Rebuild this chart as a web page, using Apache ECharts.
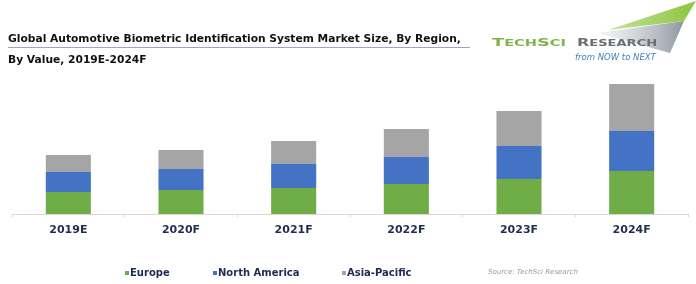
<!DOCTYPE html>
<html>
<head>
<meta charset="utf-8">
<script src="https://cdn.jsdelivr.net/npm/echarts@6/dist/echarts.min.js"></script>
<style>html,body{margin:0;padding:0;background:#fff;}#c{width:696px;height:284px;}</style>
</head>
<body>
<div id="c"></div>
<script>
var categories = ['2019E', '2020F', '2021F', '2022F', '2023F', '2024F'];
var europe = [22, 24, 26, 30, 35, 43];
var northAmerica = [20, 21, 24, 27, 33, 40];
var asiaPacific = [17, 19, 23, 28, 35, 47];
var seriesNames = ['Europe', 'North America', 'Asia-Pacific'];
var colors = ['#70ad47', '#4472c4', '#a5a5a5'];

var chart = echarts.init(document.getElementById('c'), null, {renderer: 'canvas'});
var values = [europe, northAmerica, asiaPacific];
var legendLefts = [120, 208, 337];

var option = {
  animation: false,
  backgroundColor: '#ffffff',
  grid: {left: 12, right: 8, top: 84, bottom: 70},
  xAxis: {
    type: 'category',
    data: categories,
    axisLine: {lineStyle: {color: '#d9d9d9', width: 1}},
    axisTick: {show: true, length: 3, lineStyle: {color: '#d9d9d9'}},
    axisLabel: {color: '#1f2d4f', fontFamily: 'DejaVu Sans', fontWeight: 'bold', fontSize: 11, margin: 11}
  },
  yAxis: {type: 'value', min: 0, max: 130, show: false, splitLine: {show: false}},
  legend: seriesNames.map(function (n, i) {
    return {
      data: [n], left: legendLefts[i], top: 263,
      itemWidth: 4, itemHeight: 4, itemGap: 0, icon: 'rect',
      textStyle: {color: '#1f2a55', fontFamily: 'DejaVu Sans', fontWeight: 'bold', fontSize: 10, padding: [0, 0, 0, -4]}
    };
  }),
  series: seriesNames.map(function (n, i) {
    return {
      name: n, type: 'bar', stack: 'total', data: values[i],
      barWidth: '40%', itemStyle: {color: colors[i]}
    };
  }),
  graphic: [
    {type: 'text', left: 8, top: 34, style: {text: 'Global Automotive Biometric Identification System Market Size, By Region,', fill: '#111', font: 'bold 10.7px "DejaVu Sans"'}},
    {type: 'line', shape: {x1: 8, y1: 47.5, x2: 470, y2: 47.5}, style: {stroke: '#9aa6c8', lineWidth: 1}},
    {type: 'text', left: 8, top: 55, style: {text: 'By Value, 2019E-2024F', fill: '#111', font: 'bold 10.7px "DejaVu Sans"'}},
    {type: 'text', left: 488, top: 269, style: {text: 'Source: TechSci Research', fill: '#9a9a9a', font: 'italic 7px "DejaVu Sans"'}},
    {type: 'polygon', shape: {points: [[597, 33], [684, 21], [670, 53]]}, style: {fill: new echarts.graphic.LinearGradient(0, 0, 1, 0, [{offset: 0, color: 'rgba(200,205,210,0.2)'}, {offset: 1, color: '#8d96a0'}])}},
    {type: 'polygon', shape: {points: [[608, 30], [696, 1], [684, 21]]}, style: {fill: new echarts.graphic.LinearGradient(0, 0, 1, 0, [{offset: 0, color: 'rgba(140,195,60,0.5)'}, {offset: 1, color: '#8cc63f'}])}},
    {type: 'text', x: 492, y: 38, scaleX: 1.62, style: {text: '{a|T}{b|ECH}{a|S}{b|CI}', rich: {a: {fontSize: 11, fontWeight: 'bold', fill: '#7ab648', fontFamily: 'DejaVu Sans'}, b: {fontSize: 9, fontWeight: 'bold', fill: '#7ab648', fontFamily: 'DejaVu Sans'}}}},
    {type: 'text', x: 577, y: 38, scaleX: 1.45, style: {text: '{a|R}{b|ESEARCH}', rich: {a: {fontSize: 11, fontWeight: 'bold', fill: '#6b6e72', fontFamily: 'DejaVu Sans'}, b: {fontSize: 9, fontWeight: 'bold', fill: '#6b6e72', fontFamily: 'DejaVu Sans'}}}},
    {type: 'text', x: 575, y: 53, style: {text: 'from NOW to NEXT', fill: '#3f7fbf', font: 'italic 8.5px "DejaVu Sans"'}}
  ]
};
chart.setOption(option);
</script>
</body>
</html>
